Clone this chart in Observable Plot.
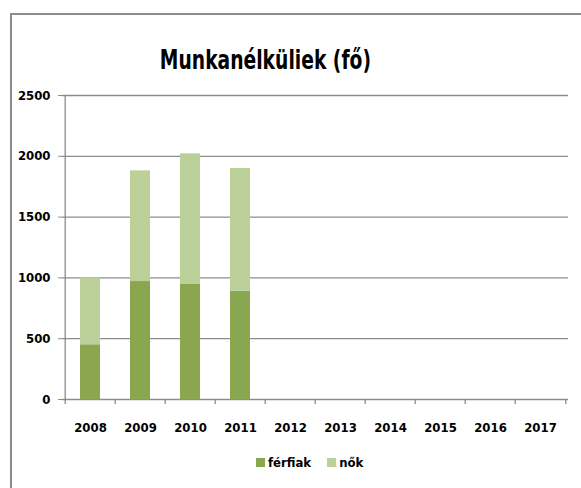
<!DOCTYPE html>
<html>
<head>
<meta charset="utf-8">
<script src="https://cdn.jsdelivr.net/npm/d3@7"></script>
<script src="https://cdn.jsdelivr.net/npm/@observablehq/plot@0.6"></script>
<style>
  html, body { margin: 0; padding: 0; background: #fff; }
  body { width: 581px; height: 488px; position: relative; overflow: hidden;
         font-family: "DejaVu Sans Condensed", "DejaVu Sans", sans-serif; font-weight: bold; }
  #frame { position: absolute; left: 10px; top: 13px; width: 700px; height: 600px;
           border-left: 2px solid #8c8c8c; border-top: 2px solid #8c8c8c; }
  #title { position: absolute; left: 0; width: 531px; top: 45px; text-align: center;
           font-size: 26px; color: #000; transform: scaleX(0.8); transform-origin: 265px 0; }
  #chart { position: absolute; left: 0; top: 80px; }
  #legend { position: absolute; top: 455px; left: 256px; font-size: 13px; display: flex; align-items: center; white-space: nowrap; }
  .sw { display: inline-block; width: 9px; height: 9px; margin-right: 3px; }
</style>
</head>
<body>
<div id="frame"></div>
<div id="title">Munkanélküliek (fő)</div>
<div id="chart"></div>
<div id="legend"></div>
<script>
const years = ["2008","2009","2010","2011","2012","2013","2014","2015","2016","2017"];
const ferfiak = [450, 970, 950, 890];
const nok = [550, 910, 1070, 1010];
const seriesNames = ["férfiak", "nők"];
const seriesColors = ["#8aa64f", "#bbd098"];
const yTicks = [0, 500, 1000, 1500, 2000, 2500];

const rows = [];
ferfiak.forEach((v, i) => rows.push({year: years[i], series: seriesNames[0], value: v}));
nok.forEach((v, i) => rows.push({year: years[i], series: seriesNames[1], value: v}));

const W = 581, mL = 62, mR = 13;
const step = (W - mL - mR) / years.length;
const font = '"DejaVu Sans Condensed", "DejaVu Sans", sans-serif';

const chart = Plot.plot({
  width: W,
  height: 364,
  marginLeft: mL,
  marginRight: mR,
  marginTop: 15,
  marginBottom: 45,
  style: {fontFamily: font, fontSize: "13px", fontWeight: "bold", color: "#000", background: "transparent", overflow: "visible"},
  x: {type: "band", domain: years, paddingInner: 0.6, paddingOuter: 0.3, label: null},
  y: {domain: [0, 2500], label: null},
  color: {domain: seriesNames, range: seriesColors},
  marks: [
    Plot.ruleY(yTicks, {stroke: "#8c8c8c", strokeWidth: 1.3, strokeOpacity: 1}),
    Plot.axisY({ticks: yTicks, tickSize: 4, tickPadding: 8, stroke: "#8c8c8c", strokeOpacity: 1, fill: "#000", label: null, tickFormat: d => String(d)}),
    Plot.barY(rows, {x: "year", y: "value", fill: "series", order: seriesNames}),
    Plot.ruleX([years[0]], {dx: -step / 2, y1: 0, y2: 2500, stroke: "#8c8c8c", strokeWidth: 1.3}),
    Plot.ruleX(years, {x: d => d, dx: -step / 2, y1: 0, y2: 0, insetBottom: -5, stroke: "#8c8c8c", strokeWidth: 1.3}),
    Plot.ruleX([years[years.length - 1]], {x: d => d, dx: step / 2, y1: 0, y2: 0, insetBottom: -5, stroke: "#8c8c8c", strokeWidth: 1.3}),
    Plot.axisX({tickSize: 0, tickPadding: 23, fill: "#000", label: null})
  ]
});
document.getElementById("chart").appendChild(chart);

const legend = document.getElementById("legend");
seriesNames.forEach((name, i) => {
  const item = document.createElement("span");
  item.style.display = "inline-flex";
  item.style.alignItems = "center";
  item.style.marginRight = i === 0 ? "16px" : "0";
  const sw = document.createElement("span");
  sw.className = "sw";
  sw.style.background = seriesColors[i];
  item.appendChild(sw);
  item.appendChild(document.createTextNode(name));
  legend.appendChild(item);
});
</script>
</body>
</html>
